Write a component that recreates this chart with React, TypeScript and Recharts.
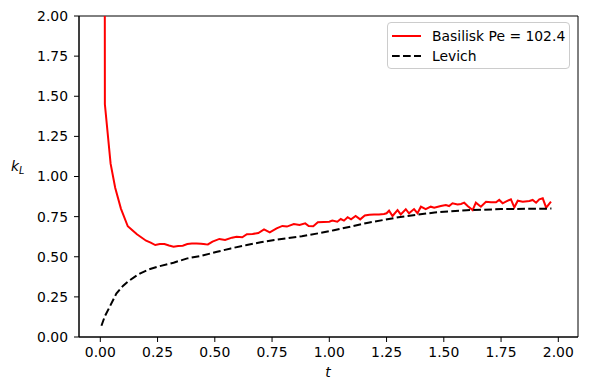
import React from "react";
import {
  LineChart,
  Line,
  XAxis,
  YAxis,
  ReferenceArea,
  Label,
} from "recharts";

// Basilisk simulation, Pe = 102.4
const basiliskT = [
  0.01, 0.02, 0.045, 0.065, 0.09, 0.12, 0.14, 0.16, 0.18, 0.2, 0.22, 0.24,
  0.26, 0.28, 0.3, 0.32, 0.34, 0.36, 0.38, 0.4, 0.42, 0.44, 0.46, 0.47, 0.49,
  0.52, 0.545, 0.575, 0.595, 0.62, 0.64, 0.665, 0.69, 0.715, 0.74, 0.77,
  0.795, 0.815, 0.845, 0.87, 0.895, 0.91, 0.93, 0.95, 0.975, 1.0, 1.013,
  1.035, 1.05, 1.064, 1.08, 1.095, 1.115, 1.135, 1.155, 1.175, 1.195, 1.217,
  1.239, 1.25, 1.261, 1.276, 1.298, 1.312, 1.334, 1.348, 1.37, 1.385, 1.4,
  1.421, 1.443, 1.458, 1.487, 1.509, 1.523, 1.538, 1.56, 1.575, 1.589, 1.604,
  1.626, 1.64, 1.662, 1.684, 1.706, 1.728, 1.742, 1.757, 1.771, 1.793, 1.808,
  1.823, 1.845, 1.874, 1.888, 1.903, 1.917, 1.932, 1.947, 1.968,
];
const basiliskK = [
  20, 1.45, 1.08, 0.93, 0.8, 0.69, 0.665, 0.64, 0.62, 0.6, 0.588, 0.573,
  0.579, 0.579, 0.57, 0.563, 0.567, 0.569, 0.579, 0.582, 0.582, 0.581, 0.578,
  0.577, 0.594, 0.611, 0.604, 0.619, 0.625, 0.621, 0.64, 0.642, 0.648, 0.671,
  0.652, 0.677, 0.692, 0.688, 0.704, 0.698, 0.708, 0.692, 0.69, 0.715, 0.717,
  0.718, 0.725, 0.718, 0.735, 0.725, 0.746, 0.733, 0.754, 0.733, 0.757,
  0.762, 0.764, 0.764, 0.766, 0.771, 0.787, 0.754, 0.791, 0.764, 0.796,
  0.771, 0.797, 0.771, 0.812, 0.796, 0.812, 0.806, 0.816, 0.822, 0.816,
  0.833, 0.825, 0.829, 0.837, 0.816, 0.791, 0.837, 0.812, 0.843, 0.839,
  0.839, 0.854, 0.833, 0.843, 0.858, 0.808, 0.849, 0.843, 0.847, 0.854,
  0.837, 0.858, 0.864, 0.806, 0.843,
];

// Levich prediction
const levichT = [
  0.005, 0.02, 0.04, 0.07, 0.1, 0.12, 0.15, 0.175, 0.21, 0.25, 0.32, 0.38,
  0.44, 0.51, 0.57, 0.64, 0.7, 0.76, 0.88, 0.96, 1.02, 1.17, 1.31, 1.46, 1.6,
  1.75, 1.97,
];
const levichK = [
  0.07, 0.13, 0.185, 0.27, 0.32, 0.345, 0.375, 0.397, 0.42, 0.438, 0.463,
  0.49, 0.505, 0.531, 0.552, 0.573, 0.59, 0.604, 0.628, 0.648, 0.665, 0.712,
  0.748, 0.776, 0.79, 0.797, 0.8,
];

const xTicks = [0, 0.25, 0.5, 0.75, 1, 1.25, 1.5, 1.75, 2];
const yTicks = [0, 0.25, 0.5, 0.75, 1, 1.25, 1.5, 1.75, 2];

const basiliskData = basiliskT.map((t, i) => ({ t, k: basiliskK[i] }));
const levichData = levichT.map((t, i) => ({ t, k: levichK[i] }));

const FONT = "'DejaVu Sans', sans-serif";
const tickStyle = { fontSize: 13.9, fill: "#000", fontFamily: FONT };

export default function App() {
  return (
    <div style={{ position: "relative", width: 590, height: 390 }}>
      <style>{`body{margin:0;background:#fff}`}</style>
      <LineChart
        width={590}
        height={390}
        margin={{ top: 16, right: 12, left: 0, bottom: 0 }}
      >
        <XAxis
          type="number"
          dataKey="t"
          domain={[-0.093, 2.086]}
          ticks={xTicks}
          allowDataOverflow
          tickFormatter={(v: number) => v.toFixed(2)}
          tick={tickStyle}
          tickSize={5}
          tickMargin={5}
          stroke="#000"
          height={53}
        >
          <Label
            content={() => (
              <text
                x={328}
                y={377}
                textAnchor="middle"
                fontFamily={FONT}
                fontStyle="italic"
                fontSize={13.9}
                fill="#000"
              >
                t
              </text>
            )}
          />
        </XAxis>
        <YAxis
          type="number"
          domain={[0, 2]}
          ticks={yTicks}
          allowDataOverflow
          tickFormatter={(v: number) => v.toFixed(2)}
          tick={tickStyle}
          tickSize={5}
          tickMargin={6}
          stroke="#000"
          width={79}
        >
          <Label
            content={() => (
              <text x={11} y={171} fontFamily={FONT} fill="#000">
                <tspan fontStyle="italic" fontSize={13.9}>
                  k
                </tspan>
                <tspan fontStyle="italic" fontSize={9.7} dy={3}>
                  L
                </tspan>
              </text>
            )}
          />
        </YAxis>
        <ReferenceArea
          x1={-0.093}
          x2={2.086}
          y1={0}
          y2={2}
          fill="none"
          stroke="#000"
          strokeWidth={1}
        />
        <Line
          data={basiliskData}
          dataKey="k"
          type="linear"
          stroke="#ff0000"
          strokeWidth={2}
          dot={false}
          isAnimationActive={false}
        />
        <Line
          data={levichData}
          dataKey="k"
          type="linear"
          stroke="#000"
          strokeWidth={2}
          strokeDasharray="7.7 3.3"
          dot={false}
          isAnimationActive={false}
        />
      </LineChart>
      <div
        style={{
          position: "absolute",
          left: 387,
          top: 22,
          width: 181,
          height: 45,
          border: "1px solid #cccccc",
          borderRadius: 4,
          background: "#fff",
          fontFamily: FONT,
          fontSize: 13.9,
          color: "#000",
        }}
      >
        <div style={{ position: "absolute", left: 4, top: 4, display: "flex", alignItems: "center", height: 17 }}>
          <svg width={29} height={4}>
            <line x1={0} y1={2} x2={29} y2={2} stroke="#ff0000" strokeWidth={2} />
          </svg>
          <span style={{ marginLeft: 11, whiteSpace: "nowrap" }}>Basilisk Pe = 102.4</span>
        </div>
        <div style={{ position: "absolute", left: 4, top: 24, display: "flex", alignItems: "center", height: 17 }}>
          <svg width={29} height={4}>
            <line
              x1={0}
              y1={2}
              x2={29}
              y2={2}
              stroke="#000"
              strokeWidth={2}
              strokeDasharray="7.7 3.3"
            />
          </svg>
          <span style={{ marginLeft: 11, whiteSpace: "nowrap" }}>Levich</span>
        </div>
      </div>
    </div>
  );
}
